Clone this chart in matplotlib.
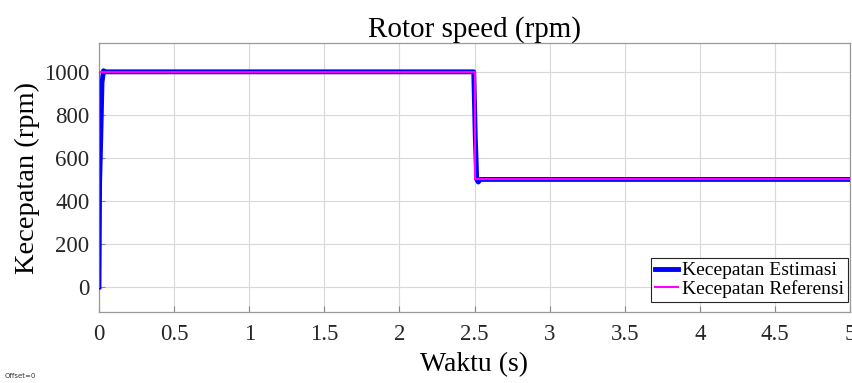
import numpy as np
import matplotlib.pyplot as plt

plt.rcParams['font.family'] = ['Liberation Serif', 'DejaVu Serif']

# --- Data ---
t_est = [0.0, 0.004, 0.012, 0.02, 0.03, 0.04, 2.495, 2.505, 2.515, 2.525, 2.54, 5.0]
speed_est = [0, 480, 700, 950, 1005, 1000, 1000, 700, 500, 488, 500, 500]
t_ref = [0.0, 0.0, 2.5, 2.5, 5.0]
speed_ref = [0, 1000, 1000, 500, 500]
xticks = [0, 0.5, 1, 1.5, 2, 2.5, 3, 3.5, 4, 4.5, 5]
yticks = [0, 200, 400, 600, 800, 1000]

fig = plt.figure(figsize=(8.53, 3.83), dpi=100)
ax = fig.add_axes([99 / 853, 1 - 312 / 383, 751 / 853, 269 / 383])

ax.plot(t_est, speed_est, color='#0000ff', lw=3.5, label='Kecepatan Estimasi', zorder=3)
ax.plot(t_ref, speed_ref, color='#ff00ff', lw=1.5, label='Kecepatan Referensi', zorder=4)

ax.set_xlim(0, 5)
ax.set_ylim(-116, 1134)
ax.set_xticks(xticks)
ax.set_xticklabels(['0', '0.5', '1', '1.5', '2', '2.5', '3', '3.5', '4', '4.5', '5'])
ax.set_yticks(yticks)
ax.tick_params(labelsize=16.5, length=4, direction='in', color='#888888',
               labelcolor='#262626', pad=7)
ax.tick_params(axis='x', pad=9)
ax.grid(True, color='#d8d8d8', lw=0.8)
for s in ax.spines.values():
    s.set_color('#999999')
    s.set_linewidth(0.9)

ax.set_title('Rotor speed (rpm)', fontsize=21, pad=3)
ax.set_xlabel('Waktu (s)', fontsize=20, labelpad=5)
ax.set_ylabel('Kecepatan (rpm)', fontsize=20.5, labelpad=3)

leg = ax.legend(loc='lower right', bbox_to_anchor=(0.997, 0.037), fontsize=14,
                frameon=True, fancybox=False, borderpad=0.2, handlelength=1.2,
                handletextpad=0.2, labelspacing=0.05, borderaxespad=0)
leg.get_frame().set_edgecolor('#262626')
leg.get_frame().set_linewidth(0.8)
leg.get_frame().set_alpha(1)

fig.text(5 / 853, 1 - 378 / 383, 'Offset=0', fontsize=5, family='DejaVu Sans', color='#333333')

fig.savefig('out.png', dpi=100)
